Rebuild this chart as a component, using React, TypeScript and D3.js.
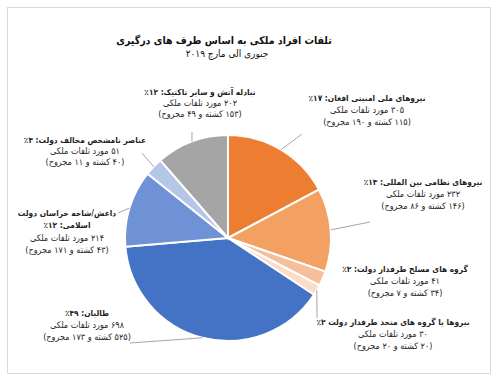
import React from "react";
import * as d3 from "d3";

const titleLines = ["تلفات افراد ملکی به اساس طرف های درگیری", "جنوری الی مارچ ۲۰۱۹"];
const parties = [
  "نیروهای ملی امنیتی افغان",
  "نیروهای نظامی بین المللی",
  "گروه های مسلح طرفدار دولت",
  "نیروها یا گروه های متحد طرفدار دولت",
  "طالبان",
  "داعش/شاخه خراسان دولت اسلامی",
  "عناصر نامشخص مخالف دولت",
  "تبادله آتش و سایر تاکتیک",
];
const casualties = [305, 232, 41, 30, 698, 214, 51, 202];
const killed = [115, 146, 34, 20, 525, 43, 40, 153];
const injured = [190, 86, 7, 20, 173, 171, 11, 49];
const percentLabels = ["۱۷٪", "۱۳٪", "۲٪", "۲٪", "۳۹٪", "۱۲٪", "۳٪", "۱۲٪"];
const colors = ["#ED7D31", "#F3A162", "#F6BF99", "#FADCC8", "#4472C4", "#6F92D6", "#B4C7E7", "#A5A5A5"];

const fa = (n: number) => String(n).replace(/\d/g, (d) => "۰۱۲۳۴۵۶۷۸۹"[+d]);

const labelLines: string[][] = parties.map((p, i) => {
  const l2 = `${fa(casualties[i])} مورد تلفات ملکی`;
  const l3 = `(${fa(killed[i])} کشته و ${fa(injured[i])} مجروح)`;
  if (i === 5) return ["داعش/شاخه خراسان دولت", `اسلامی: ${percentLabels[i]}`, l2, l3];
  if (i === 3) return [`${p} ${percentLabels[i]}`, l2, l3];
  return [`${p}: ${percentLabels[i]}`, l2, l3];
});
const labelPos: [number, number][] = [
  [367, 101],
  [423, 185],
  [405, 272],
  [393, 325],
  [87, 316],
  [67, 216],
  [85, 143],
  [200, 95],
];
const labelLineGap = [12, 12, 12, 12, 12, 12.3, 11, 11];
const leaderEnd: ([number, number] | null)[] = [
  [302, 134],
  [370, 222],
  null,
  [317, 318],
  [130, 343],
  [118, 213],
  [142, 153],
  [192, 132],
];

export default function App() {
  const W = 500, H = 385;
  const cx = 228, cy = 238, r = 103;
  const pie = d3.pie<number>().sort(null).value((d) => d)(casualties);
  const arc = d3.arc<d3.PieArcDatum<number>>().innerRadius(0).outerRadius(r);
  const font = "'DejaVu Sans Condensed', 'DejaVu Sans', sans-serif";
  return (
    <svg width={W} height={H} style={{ position: "absolute", left: 0, top: 0, background: "#fff" }}>
      <rect x={7.5} y={7.5} width={483} height={366} fill="#fff" stroke="#d9d9d9" strokeWidth={1} />
      <g fontFamily={font} textAnchor="middle" fill="#111" style={{ direction: "rtl" }}>
        <text x={224} y={44} fontSize={10.5} fontWeight="bold">{titleLines[0]}</text>
        <text x={227} y={57} fontSize={10}>{titleLines[1]}</text>
      </g>
      <g transform={`translate(${cx},${cy})`}>
        {pie.map((p, i) => (
          <path key={i} d={arc(p) || ""} fill={colors[i]} stroke="#fff" strokeWidth={2} />
        ))}
      </g>
      {pie.map((p, i) => {
        const e = leaderEnd[i];
        if (!e) return null;
        const m = (p.startAngle + p.endAngle) / 2;
        const sx = cx + r * Math.sin(m), sy = cy - r * Math.cos(m);
        return <line key={i} x1={sx} y1={sy} x2={e[0]} y2={e[1]} stroke="#a6a6a6" strokeWidth={1} />;
      })}
      <g fontFamily={font} textAnchor="middle" fill="#1f1f1f" style={{ direction: "rtl" }}>
        {labelLines.map((lines, i) => (
          <text key={i} x={labelPos[i][0]} y={labelPos[i][1]}>
            {lines.map((l, j) => {
              const bold = j === 0 || (i === 5 && j === 1);
              return (
                <tspan key={j} x={labelPos[i][0]} dy={j === 0 ? 0 : labelLineGap[i]} fontWeight={bold ? "bold" : "normal"} fontSize={bold ? 8.3 : 9}>
                  {l}
                </tspan>
              );
            })}
          </text>
        ))}
      </g>
    </svg>
  );
}
